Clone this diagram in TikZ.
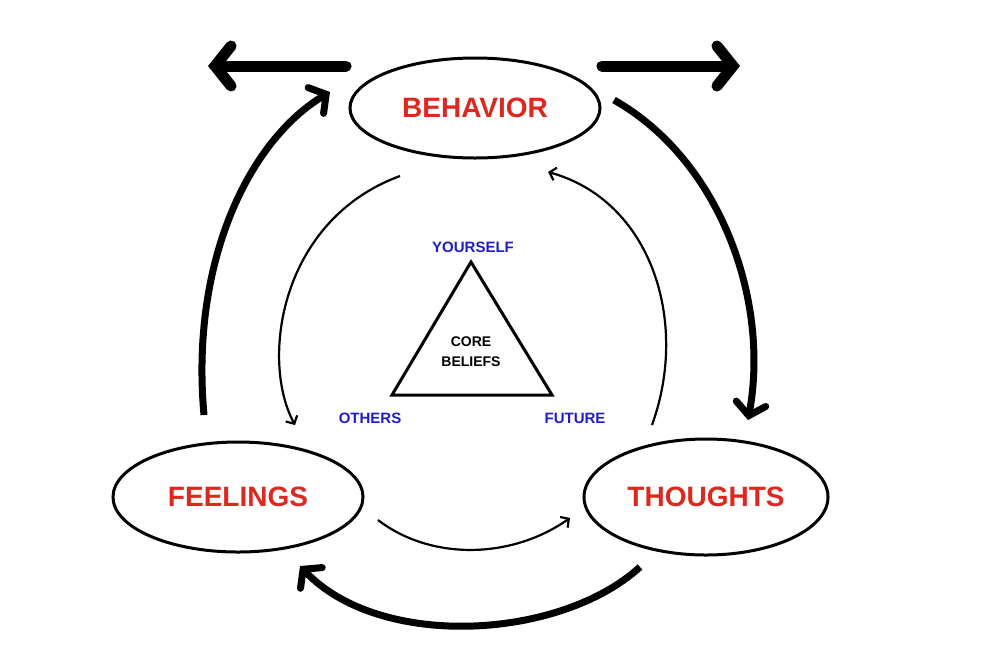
\documentclass[tikz,border=0pt]{standalone}
\usepackage{fontspec}
\setmainfont{Liberation Sans}
\usetikzlibrary{arrows.meta,shapes.geometric}
\definecolor{lred}{RGB}{220,40,30}
\definecolor{lblue}{RGB}{30,30,200}
\begin{document}
\begin{tikzpicture}[x=1pt,y=-1pt,
 ell/.style={draw,line width=3pt,ellipse},
 big/.style={text=lred,font=\bfseries\fontsize{28}{32}\selectfont},
 lab/.style={text=lblue,font=\bfseries\fontsize{15}{18}\selectfont},
 thick arr/.style={line width=11pt,line cap=round,-{Straight Barb[length=16pt,width=40pt,line cap=round]}},
 outer/.style={line width=7pt,-{Straight Barb[length=12pt,width=30pt,line cap=round]}},
 inner/.style={line width=2.2pt,-{Straight Barb[length=6pt,width=13pt]}}]
\useasboundingbox (0,0) rectangle (984,646);
\fill[white] (0,0) rectangle (984,646);
\node[ell,minimum width=250,minimum height=100] (beh) at (475,108) {};
\node[big] at (beh) {BEHAVIOR};
\node[ell,minimum width=250,minimum height=110] (fee) at (238,497) {};
\node[big] at (fee) {FEELINGS};
\node[ell,minimum width=244,minimum height=116] (tho) at (706,497) {};
\node[big] at (tho) {THOUGHTS};
\draw[line width=3pt,line join=miter] (471,262) -- (392,395) -- (552,395) -- cycle;
\node[font=\bfseries\fontsize{14}{20}\selectfont,align=center] (core) at (471,352) {CORE\\BELIEFS};
\node[lab] (you) at (473,247) {YOURSELF};
\node[lab] (oth) at (370,418) {OTHERS};
\node[lab] (fut) at (575,418) {FUTURE};
\coordinate (l0) at (346,66); \coordinate (l1) at (208,66);
\coordinate (r0) at (602,66); \coordinate (r1) at (740,66);
\draw[thick arr] (l0) -- (l1);
\draw[thick arr] (r0) -- (r1);
\coordinate (a0) at (204,415); \coordinate (a1) at (330,92);
\draw[outer] (a0) .. controls (190,260) and (250,140) .. (a1);
\coordinate (b0) at (614,100); \coordinate (b1) at (748,420);
\draw[outer] (b0) .. controls (720,160) and (770,300) .. (b1);
\coordinate (c0) at (640,567); \coordinate (c1) at (300,566);
\draw[outer] (c0) .. controls (560,640) and (380,650) .. (c1);
\coordinate (d0) at (400,176); \coordinate (d1) at (295,425);
\draw[inner] (d0) .. controls (280,220) and (260,360) .. (d1);
\coordinate (e0) at (378,520); \coordinate (e1) at (570,518);
\draw[inner] (e0) .. controls (430,560) and (510,560) .. (e1);
\coordinate (f0) at (652,425); \coordinate (f1) at (548,172);
\draw[inner] (f0) .. controls (690,320) and (650,200) .. (f1);
\end{tikzpicture}
\end{document}
